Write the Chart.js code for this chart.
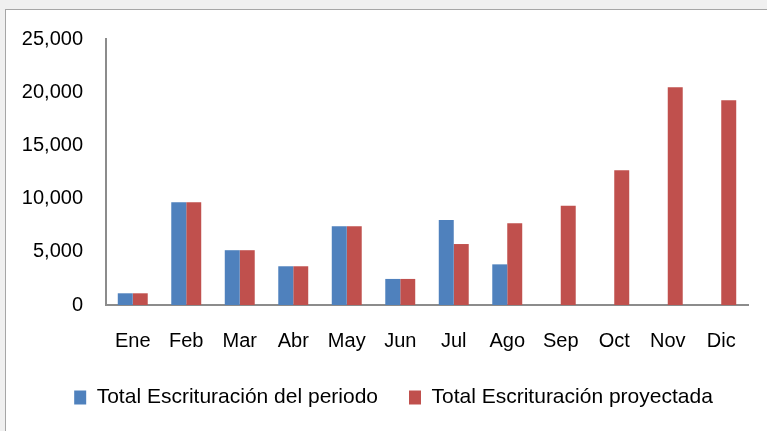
<!DOCTYPE html>
<html><head><meta charset="utf-8">
<script src="https://cdn.jsdelivr.net/npm/chart.js@4/dist/chart.umd.min.js"></script>
<style>
html,body{margin:0;padding:0;background:#f0f0f0;width:767px;height:431px;overflow:hidden}
#frame{position:absolute;left:5px;top:9px;width:820px;height:470px;background:#fff;border:1px solid #a6a6a6}
#wrap{position:absolute;left:0;top:0;width:767px;height:431px}
</style></head><body>
<div id="frame"></div>
<div id="wrap"><canvas id="c" width="767" height="431"></canvas></div>
<script>
const categories = ['Ene','Feb','Mar','Abr','May','Jun','Jul','Ago','Sep','Oct','Nov','Dic'];
const periodoLabel = 'Total Escrituración del periodo';
const proyectadaLabel = 'Total Escrituración proyectada';
const periodo = [1100, 9650, 5150, 3640, 7400, 2450, 8000, 3820, null, null, null, null];
const proyectada = [1100, 9650, 5150, 3640, 7400, 2450, 5730, 7680, 9330, 12660, 20460, 19240];
const yTicks = [0, 5000, 10000, 15000, 20000, 25000];

const FONT = "'Liberation Sans', Arial, sans-serif";
const shiftLegend = {
  id: 'shiftLegend',
  afterLayout(chart) { if (chart.legend) chart.legend.left += 39; }
};
new Chart(document.getElementById('c'), {
  type: 'bar',
  data: {
    labels: categories,
    datasets: [
      { label: periodoLabel, data: periodo, backgroundColor: '#4F81BD', borderWidth: 0 },
      { label: proyectadaLabel, data: proyectada, backgroundColor: '#C0504D', borderWidth: 0 }
    ]
  },
  plugins: [shiftLegend],
  options: {
    responsive: false,
    animation: false,
    devicePixelRatio: 1,
    categoryPercentage: 0.56,
    barPercentage: 1.0,
    layout: { padding: { left: 0, top: 39, right: 19, bottom: 13 } },
    plugins: {
      tooltip: { enabled: false },
      legend: {
        position: 'bottom',
        labels: {
          font: { family: FONT, size: 21 },
          color: '#000',
          boxWidth: 12,
          boxHeight: 14,
          padding: 31
        }
      }
    },
    scales: {
      x: {
        grid: { display: false, drawTicks: false },
        border: { display: true, color: '#8c8c8c', width: 2 },
        ticks: { font: { family: FONT, size: 20 }, color: '#000', padding: 24, maxRotation: 0 },
        afterFit: s => { s.height = 51; }
      },
      y: {
        min: 0, max: 25000,
        grid: { display: false, drawTicks: false },
        border: { display: true, color: '#8c8c8c', width: 2 },
        ticks: {
          font: { family: FONT, size: 20 }, color: '#000', padding: 23,
          callback: v => v.toLocaleString('en-US')
        },
        afterBuildTicks: s => { s.ticks = yTicks.map(v => ({ value: v })); },
        afterFit: s => { s.width = 106; }
      }
    }
  }
});
</script>
</body></html>
